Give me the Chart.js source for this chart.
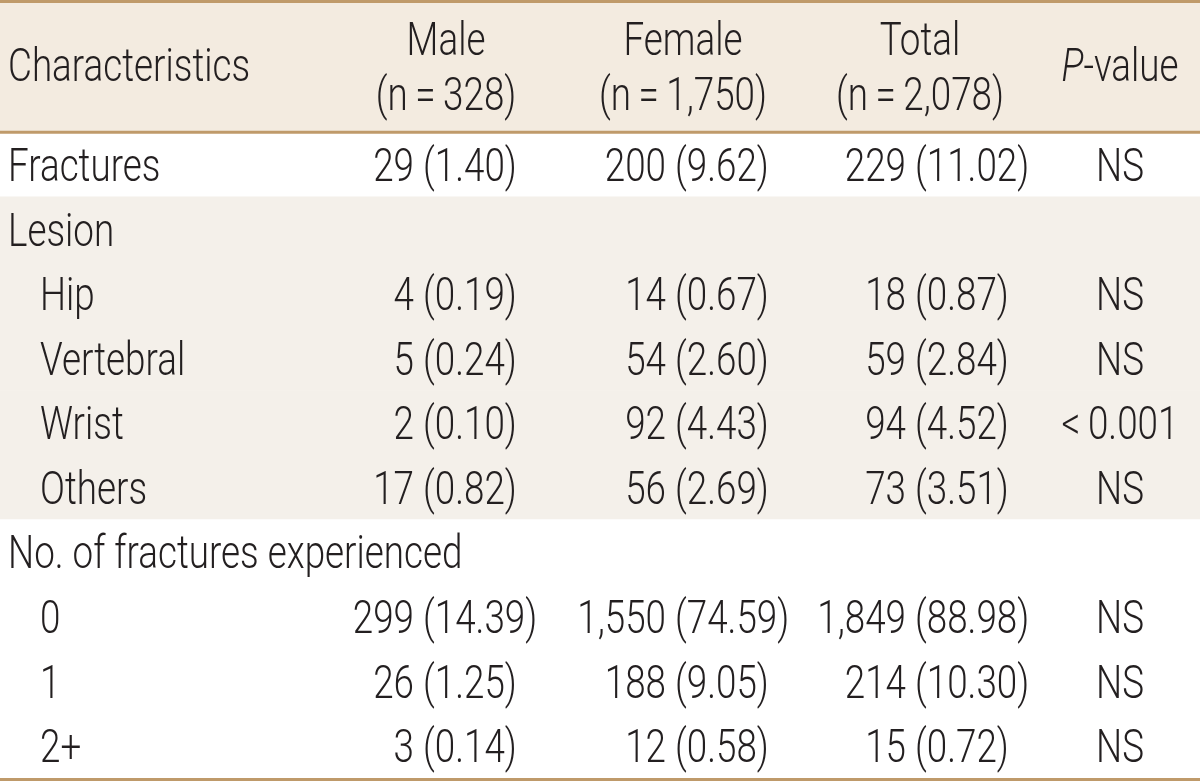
<!DOCTYPE html>
<html>
<head>
<meta charset="utf-8">
<script src="https://cdn.jsdelivr.net/npm/chart.js@4/dist/chart.umd.min.js"></script>
<style>
  html, body { margin: 0; padding: 0; background: #fff; }
  #wrap { width: 1200px; height: 781px; position: relative; }
</style>
</head>
<body>
<div id="wrap"><canvas id="tableChart"></canvas></div>
<script>
// table contents
const rowLabels = ['Fractures', 'Lesion', 'Hip', 'Vertebral', 'Wrist', 'Others',
  'No. of fractures experienced', '0', '1', '2+'];
const rowIndent = [0, 0, 1, 1, 1, 1, 0, 1, 1, 1];
const maleN = [29, null, 4, 5, 2, 17, null, 299, 26, 3];
const malePct = [1.40, null, 0.19, 0.24, 0.10, 0.82, null, 14.39, 1.25, 0.14];
const femaleN = [200, null, 14, 54, 92, 56, null, 1550, 188, 12];
const femalePct = [9.62, null, 0.67, 2.60, 4.43, 2.69, null, 74.59, 9.05, 0.58];
const totalN = [229, null, 18, 59, 94, 73, null, 1849, 214, 15];
const totalPct = [11.02, null, 0.87, 2.84, 4.52, 3.51, null, 88.98, 10.30, 0.72];
const pValues = ['NS', '', 'NS', 'NS', '<\u20090.001', 'NS', '', 'NS', 'NS', 'NS'];
const groupHeads = ['Male', 'Female', 'Total'];
const groupSizes = [328, 1750, 2078];

// row shading: header, then alternating sections
const shade = [2, 2, 0, 1, 1, 1, 1, 1, 0, 0, 0, 0];
const shadeColors = ['#ffffff', '#f4f0ea', '#f3ebe0'];

const FONT = '300 46px Roboto, "Liberation Sans", sans-serif';
const FONT_IT = 'italic ' + FONT;
const SX = 0.8; // squeeze to a condensed face
const TEXT = '#231f20';
const RULE = '#bf9a6a';

// column anchors (x of the opening bracket) and header centers
const parenX = [423, 675, 915];
const headX = [446, 683, 920];
const pX = 1120;

const slotLabels = ['', ''].concat(rowLabels);
const bands = slotLabels.map(() => [0, 1200]);

function fmtN(n) { return n.toLocaleString('en-US'); }

function textW(ctx, s) { return ctx.measureText(s).width * SX; }

function put(ctx, s, x, y, align) {
  const w = textW(ctx, s);
  const left = align === 'left' ? x : align === 'right' ? x - w : x - w / 2;
  ctx.save();
  ctx.translate(left, y);
  ctx.scale(SX, 1);
  ctx.textAlign = 'left';
  ctx.fillText(s, 0, 0);
  ctx.restore();
}

const tablePlugin = {
  id: 'tableText',
  afterDatasetsDraw(chart) {
    const ctx = chart.ctx;
    const xs = chart.scales.x;
    const ys = chart.scales.y;
    const area = chart.chartArea;
    const half = 16.5; // half cap height

    ctx.save();
    ctx.fillStyle = TEXT;
    ctx.font = FONT;
    ctx.textBaseline = 'alphabetic';

    // header
    const hMid = (ys.getPixelForValue(0) + ys.getPixelForValue(1)) / 2;
    put(ctx, 'Characteristics', xs.getPixelForValue(8), hMid - 3 + half, 'left');
    groupHeads.forEach((h, i) => {
      put(ctx, h, xs.getPixelForValue(headX[i]), hMid - 29 + half, 'center');
      put(ctx, '(n\u2009=\u2009' + fmtN(groupSizes[i]) + ')', xs.getPixelForValue(headX[i]), hMid + 26 + half, 'center');
    });
    // P-value with italic P
    ctx.font = FONT_IT;
    const wP = textW(ctx, 'P');
    ctx.font = FONT;
    const wRest = textW(ctx, '-value');
    const px0 = xs.getPixelForValue(pX) - (wP + wRest) / 2;
    ctx.font = FONT_IT;
    put(ctx, 'P', px0, hMid - 3 + half, 'left');
    ctx.font = FONT;
    put(ctx, '-value', px0 + wP, hMid - 3 + half, 'left');

    // body rows
    const cols = [[maleN, malePct], [femaleN, femalePct], [totalN, totalPct]];
    rowLabels.forEach((label, i) => {
      const yc = ys.getPixelForValue(i + 2) + half;
      put(ctx, label, xs.getPixelForValue(rowIndent[i] ? 40 : 8), yc, 'left');
      cols.forEach((c, k) => {
        if (c[0][i] === null) return;
        const ax = xs.getPixelForValue(parenX[k]);
        put(ctx, fmtN(c[0][i]), ax - 9, yc, 'right');
        put(ctx, '(' + c[1][i].toFixed(2) + ')', ax, yc, 'left');
      });
      put(ctx, pValues[i], xs.getPixelForValue(pX), yc, 'center');
    });

    // rules
    ctx.strokeStyle = RULE;
    ctx.lineWidth = 3;
    const hLine = (ys.getPixelForValue(1) + ys.getPixelForValue(2)) / 2;
    [1.5, hLine, area.bottom + 1.5].forEach(yy => {
      ctx.beginPath();
      ctx.moveTo(area.left, yy);
      ctx.lineTo(area.right, yy);
      ctx.stroke();
    });
    ctx.restore();
  }
};

new Chart(document.getElementById('tableChart'), {
  type: 'bar',
  data: {
    labels: slotLabels,
    datasets: [{
      data: bands,
      backgroundColor: shade.map(s => shadeColors[s]),
      borderWidth: 0,
      barPercentage: 1,
      categoryPercentage: 1
    }]
  },
  options: {
    indexAxis: 'y',
    responsive: true,
    maintainAspectRatio: false,
    animation: false,
    events: [],
    layout: { padding: { top: 3, bottom: 3, left: 0, right: 0 } },
    plugins: { legend: { display: false }, tooltip: { enabled: false } },
    scales: {
      x: { type: 'linear', min: 0, max: 1200, display: false },
      y: { type: 'category', display: false, grid: { display: false } }
    }
  },
  plugins: [tablePlugin]
});
</script>
</body>
</html>
